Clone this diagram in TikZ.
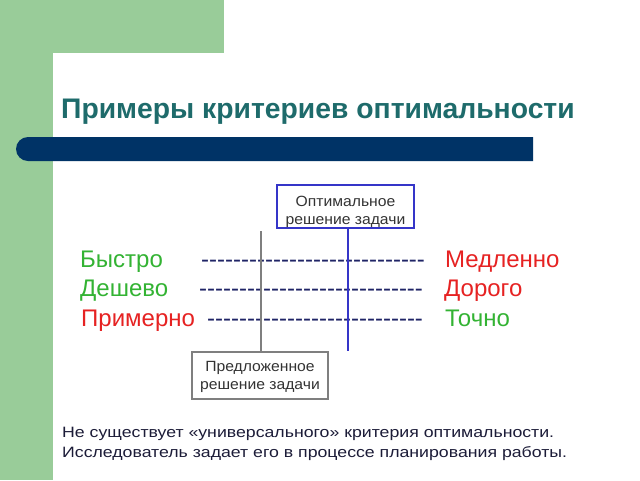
\documentclass[tikz,border=0pt]{standalone}
\usepackage{fontspec}
\setmainfont{Liberation Sans}
\newfontfamily\widefont{Liberation Sans}[FakeStretch=1.18]
\newfontfamily\boxfont{Liberation Sans}[FakeStretch=1.06]
\definecolor{panelgreen}{HTML}{99CC99}
\definecolor{barnavy}{HTML}{003366}
\definecolor{titleteal}{HTML}{1E6B6B}
\definecolor{goodgreen}{HTML}{33B333}
\definecolor{badred}{HTML}{E62222}
\definecolor{dashnavy}{HTML}{1F2466}
\definecolor{boxblue}{HTML}{3535C8}
\definecolor{boxgray}{HTML}{7F7F7F}
\definecolor{boxtext}{HTML}{333333}
\definecolor{bodytext}{HTML}{1C1C38}
\newcommand\dashrun[1]{\ifnum#1>0 \mbox{-}\expandafter\dashrun\expandafter{\the\numexpr#1-1\relax}\fi}
\tikzset{
  rowtext/.style={anchor=base west, inner sep=0pt, font=\fontsize{24}{28}\selectfont},
  good/.style={rowtext, text=goodgreen},
  bad/.style={rowtext, text=badred},
  dashes/.style={rowtext, text=dashnavy},
  solbox/.style={draw, line width=2pt, inner sep=0pt},
  boxlabel/.style={anchor=base, inner sep=0pt, text=boxtext, font=\boxfont\fontsize{14.8}{18}\selectfont},
  notetext/.style={anchor=base west, inner sep=0pt, text=bodytext, font=\widefont\fontsize{15}{20}\selectfont},
}
\begin{document}
\begin{tikzpicture}[x=1pt,y=-1pt]
\useasboundingbox (0,0) rectangle (640,480);
% background panels
\fill[panelgreen] (0,0) rectangle (224,53);
\fill[panelgreen] (0,0) rectangle (53,480);
\fill[white] (53,480) -- (53,67) arc(180:270:14) -- (640,53) -- (640,480) -- cycle;
% bar
\fill[barnavy] (533,137) -- (28,137) arc(270:90:12) -- (533,161) -- cycle;
% title
\node[anchor=base west, inner sep=0pt, text=titleteal,
  font=\fontsize{28.3}{34}\selectfont\bfseries] (title) at (61,118) {Примеры критериев оптимальности};
% boxes
\node[solbox, draw=boxblue, minimum width=137pt, minimum height=43pt] (opt) at (345.5,206.5) {};
\node[boxlabel] (opt1) at (345.5,206) {Оптимальное};
\node[boxlabel] (opt2) at (345.5,224) {решение задачи};
\node[solbox, draw=boxgray, minimum width=136pt, minimum height=47pt] (prop) at (260,375.5) {};
\node[boxlabel] (prop1) at (260,371) {Предложенное};
\node[boxlabel] (prop2) at (260,389) {решение задачи};
% rows
\node[good] (fast) at (80,267) {Быстро};
\node[dashes] (d1) at (201,267) {\dashrun{28}};
\node[bad] (slow) at (445,267) {Медленно};
\node[good] (cheap) at (80,296) {Дешево};
\node[dashes] (d2) at (199,296) {\dashrun{28}};
\node[bad] (dear) at (444,296) {Дорого};
\node[bad] (approx) at (81,326) {Примерно};
\node[dashes] (d3) at (207,326) {\dashrun{27}};
\node[good] (exact) at (445,326) {Точно};
% vertical lines
\coordinate (gtop) at (261,231);
\coordinate (bbot) at (348,351);
\draw[boxgray, line width=2pt] (gtop) -- (gtop |- prop.north);
\draw[boxblue, line width=2pt] (opt.south -| bbot) -- (bbot);
% bottom text
\node[notetext] (note1) at (62,437) {Не существует «универсального» критерия оптимальности.};
\node[notetext] (note2) at (62,457) {Исследователь задает его в процессе планирования работы.};
\end{tikzpicture}
\end{document}
